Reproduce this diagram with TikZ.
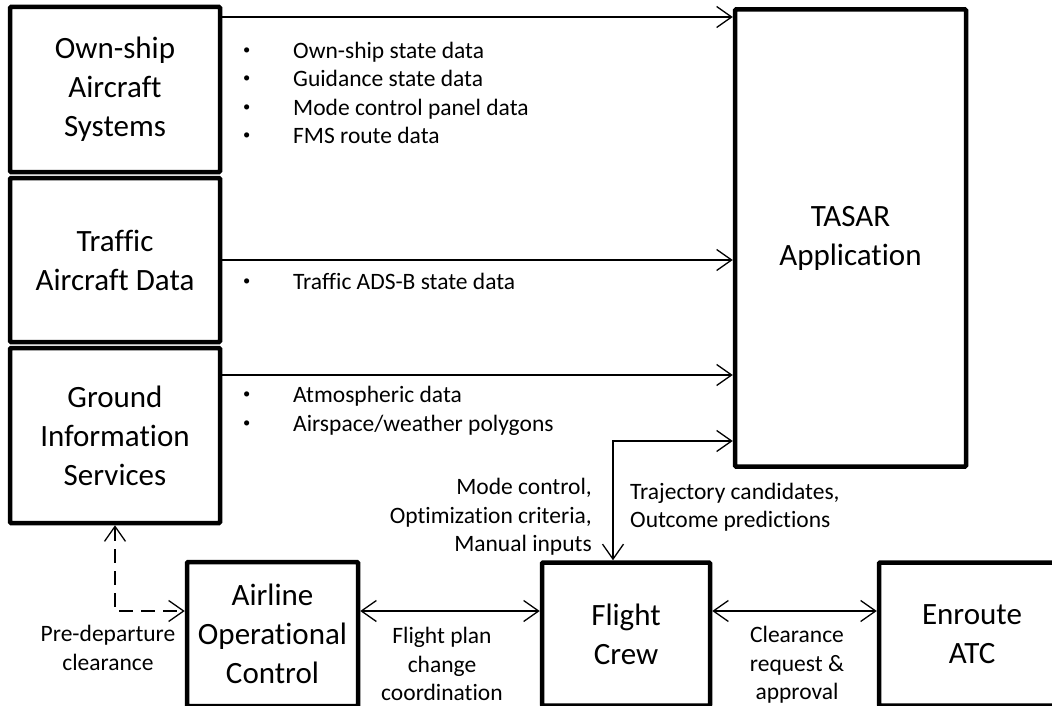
\documentclass[tikz,border=0pt]{standalone}
\usepackage{fontspec}
\setmainfont{Carlito}[RawFeature={-liga;-clig;-dlig}]
\usetikzlibrary{arrows.meta}
\newcommand{\blt}{\makebox[51pt][l]{\hspace{1pt}\raisebox{4pt}{\scalebox{0.62}{•}}}}
\begin{document}
\begin{tikzpicture}[x=1pt,y=-1pt,
  box/.style={draw, line width=4.5pt, rectangle, rounded corners=1pt, align=center, inner sep=0pt, font=\fontsize{31}{39}\selectfont},
  lbl/.style={inner sep=0pt, font=\fontsize{23.5}{28.5}\selectfont},
  arr/.style={line width=1.3pt, -{Straight Barb[length=15pt,width=21pt]}},
  darr/.style={line width=1.3pt, {Straight Barb[length=15pt,width=21pt]}-{Straight Barb[length=15pt,width=21pt]}},
]
\useasboundingbox (0,0) rectangle (1052,706);
\clip (0,0) rectangle (1052,706);

% boxes
\node[box, minimum width=210pt, minimum height=165pt] (own) at (115,89.5) {Own-ship\\Aircraft\\Systems};
\node[box, minimum width=210pt, minimum height=164pt] (traffic) at (115,260) {Traffic\\Aircraft Data};
\node[box, minimum width=210pt, minimum height=175pt] (ground) at (115,435.5) {Ground\\Information\\Services};
\node[box, minimum width=231pt, minimum height=457pt] (tasar) at (850.5,238) {TASAR\\Application};
\node[box, minimum width=171pt, minimum height=144pt] (airline) at (272.5,634) {Airline\\Operational\\Control};
\node[box, minimum width=168pt, minimum height=143pt] (crew) at (626,634) {Flight\\Crew};
\node[box, minimum width=186pt, minimum height=143pt] (enroute) at (972,634) {Enroute\\ATC};

% data arrows to TASAR
\draw[arr] (own.east |- 0,17) -- (tasar.west |- 0,17);
\draw[arr] (traffic.east |- 0,260) -- (tasar.west |- 0,260);
\draw[arr] (ground.east |- 0,375) -- (tasar.west |- 0,375);
\draw[darr] (tasar.west |- 0,441) -| ([xshift=-13pt]crew.north);

% bottom arrows
\draw[darr] (airline.east |- 0,611) -- (crew.west |- 0,611);
\draw[darr] (crew.east |- 0,611) -- (enroute.west |- 0,611);
\draw[darr, dash pattern=on 14pt off 8pt] (ground.south) |- (airline.west |- 0,611);

% bullet lists
\node[lbl, anchor=west, align=left] (l1) at (242,93) {\blt Own-ship state data\\\blt Guidance state data\\\blt Mode control panel data\\\blt FMS route data};
\node[lbl, anchor=west, align=left] (l2) at (242,281) {\blt Traffic ADS-B state data};
\node[lbl, anchor=west, align=left] (l3) at (242,411) {\blt Atmospheric data\\\blt Airspace/weather polygons};

% labels
\node[lbl, anchor=east, align=right] (mc) at (592,517) {Mode control,\\Optimization criteria,\\Manual inputs};
\node[lbl, anchor=west, align=left] (tc) at (630,507) {Trajectory candidates,\\Outcome predictions};
\node[lbl, align=center] (pd) at (108,648) {Pre-departure\\clearance};
\node[lbl, align=center] (fp) at (442,664) {Flight plan\\change\\coordination};
\node[lbl, align=center] (cr) at (797,665) {Clearance\\request \&\\approval};
\end{tikzpicture}
\end{document}
